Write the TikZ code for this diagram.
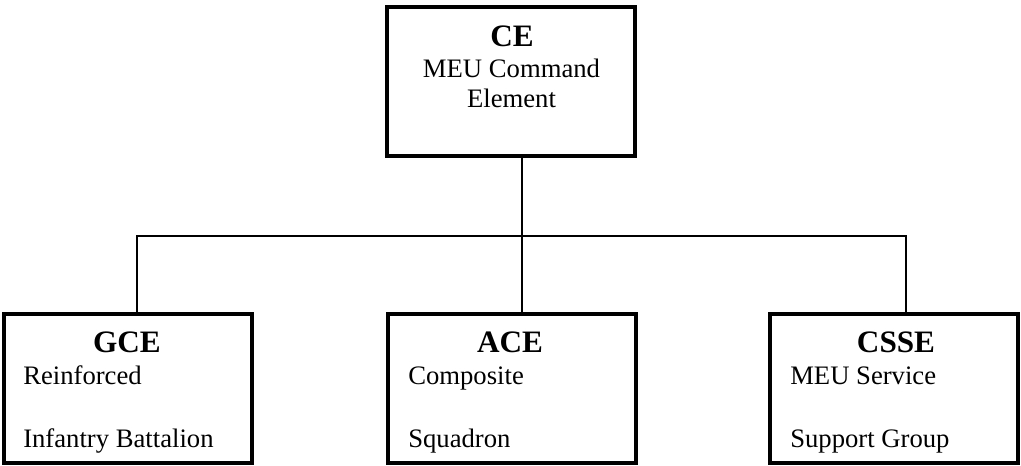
\documentclass[tikz,border=0pt]{standalone}
\usepackage{fontspec}
\setmainfont{Liberation Serif}
\begin{document}
\begin{tikzpicture}[x=0.75pt,y=-0.75pt,
  unit/.style={draw=black, line width=3pt, rectangle, minimum width=186pt,
    minimum height=111.75pt, inner sep=0pt, outer sep=0pt},
  title/.style={anchor=base, inner sep=0pt,
    font=\fontsize{23.4}{28}\selectfont\bfseries},
  bodyl/.style={anchor=base west, inner sep=0pt,
    font=\fontsize{20}{24}\selectfont},
  bodyc/.style={anchor=base, inner sep=0pt,
    font=\fontsize{20}{24}\selectfont},
  link/.style={draw=black, line width=1.3pt}]
\useasboundingbox (0,0) rectangle (1021,466);

% unit boxes
\node[unit] (ce)   at (511,81.5)  {};
\node[unit] (gce)  at (128,388.5) {};
\node[unit] (ace)  at (512,388.5) {};
\node[unit] (csse) at (894,388.5) {};

% command element
\node[title] (ce-t)  at (512,47) {CE};
\node[bodyc] (ce-1)  at (511.5,78) {MEU Command};
\node[bodyc] (ce-2)  at (511.5,108) {Element};

% ground combat element
\node[title] (gce-t) at (127,353) {GCE};
\node[bodyl] (gce-1) at (23,385) {Reinforced};
\node[bodyl] (gce-2) at (23,447) {Infantry Battalion};

% aviation combat element
\node[title] (ace-t) at (510,353) {ACE};
\node[bodyl] (ace-1) at (408,385) {Composite};
\node[bodyl] (ace-2) at (408,447) {Squadron};

% combat service support element
\node[title] (csse-t) at (896,353) {CSSE};
\node[bodyl] (csse-1) at (790,385) {MEU Service};
\node[bodyl] (csse-2) at (790,447) {Support Group};

% distribution bus
\coordinate (jg) at (137,236);
\coordinate (ja) at (522,236);
\coordinate (jc) at (906,236);

\draw[link] (gce.north -| jg) -- (jg) -- (jc) -- (csse.north -| jc);
\draw[link] (ce.south -| ja) -- (ace.north -| ja);
\end{tikzpicture}
\end{document}
